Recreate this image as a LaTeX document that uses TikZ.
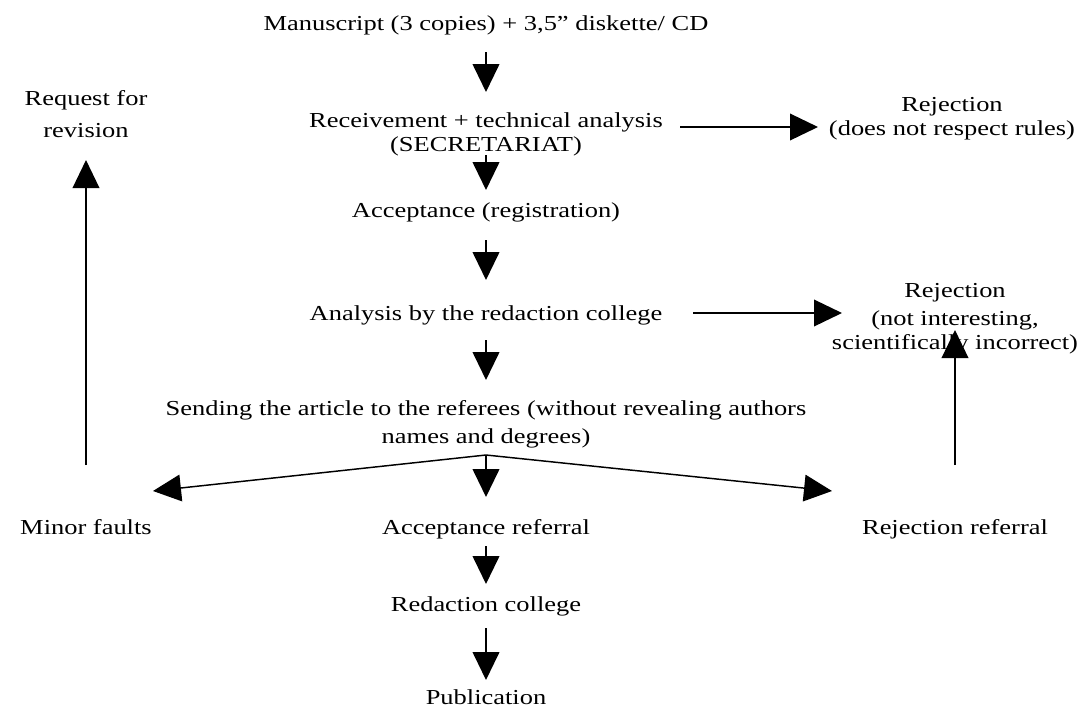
\documentclass[tikz,border=0pt]{standalone}
\usepackage{fontspec}
\setmainfont{Liberation Serif}[FakeStretch=1.24]
\usetikzlibrary{arrows.meta}
\tikzset{
  lbl/.style={anchor=base, inner sep=0pt, font=\fontsize{16pt}{18pt}\selectfont, align=center},
  arr/.style={line width=1.5pt, -{Triangle[length=21pt,width=20pt]}},
  thin arr/.style={line width=1.1pt, -{Triangle[length=21pt,width=20pt]}},
}
\begin{document}
\begin{tikzpicture}[x=0.75pt,y=-0.75pt]
\useasboundingbox (0,0) rectangle (1083,708);
% nodes (anchor base = baseline of the last line)
\node[lbl] (man) at (486,30) {Manuscript (3 copies) + 3,5'' diskette/ CD};
\node[lbl] (rec) at (486,151) {Receivement + technical analysis\\(SECRETARIAT)};
\node[lbl] (rej1) at (952,135) {Rejection\\(does not respect rules)};
\node[lbl] (req) at (86,137) {Request for\\[6pt]revision};
\node[lbl] (acc) at (486,217) {Acceptance (registration)};
\node[lbl] (ana) at (486,320) {Analysis by the redaction college};
\node[lbl] (rej2) at (955,349) {Rejection\\[3pt](not interesting,\\scientifically incorrect)};
\node[lbl] (send) at (486,443) {Sending the article to the referees (without revealing authors\\[3pt]names and degrees)};
\node[lbl] (minor) at (86,534) {Minor faults};
\node[lbl] (accref) at (486,534) {Acceptance referral};
\node[lbl] (rejref) at (955,534) {Rejection referral};
\node[lbl] (red) at (486,611) {Redaction college};
\node[lbl] (pub) at (486,704) {Publication};
% connector end points
\coordinate (man-o) at (486,52);   \coordinate (rec-i) at (486,92);
\coordinate (rec-o) at (486,155);  \coordinate (acc-i) at (486,190);
\coordinate (rec-r) at (680,127);  \coordinate (rej1-i) at (818,127);
\coordinate (acc-o) at (486,240);  \coordinate (ana-i) at (486,280);
\coordinate (ana-r) at (693,313);  \coordinate (rej2-i) at (842,313);
\coordinate (ana-o) at (486,340);  \coordinate (send-i) at (486,380);
\coordinate (split) at (486,455);
\coordinate (accref-i) at (486,497);
\coordinate (minor-i) at (153,491);
\coordinate (rejref-i) at (832,491);
\coordinate (minor-o) at (86,465); \coordinate (req-i) at (86,160);
\coordinate (rejref-o) at (955,465); \coordinate (rej2-b) at (955,330);
\coordinate (accref-o) at (486,546); \coordinate (red-i) at (486,584);
\coordinate (red-o) at (486,628); \coordinate (pub-i) at (486,680);
% connectors
\draw[arr] (man-o) -- (rec-i);
\draw[thin arr] (rec-r) -- (rej1-i);
\draw[arr] (rec-o) -- (acc-i);
\draw[arr] (acc-o) -- (ana-i);
\draw[thin arr] (ana-r) -- (rej2-i);
\draw[arr] (ana-o) -- (send-i);
\draw[arr] (split) -- (accref-i);
\draw[thin arr] (split) -- (minor-i);
\draw[thin arr] (split) -- (rejref-i);
\draw[thin arr] (minor-o) -- (req-i);
\draw[thin arr] (rejref-o) -- (rej2-b);
\draw[arr] (accref-o) -- (red-i);
\draw[arr] (red-o) -- (pub-i);
\end{tikzpicture}
\end{document}
